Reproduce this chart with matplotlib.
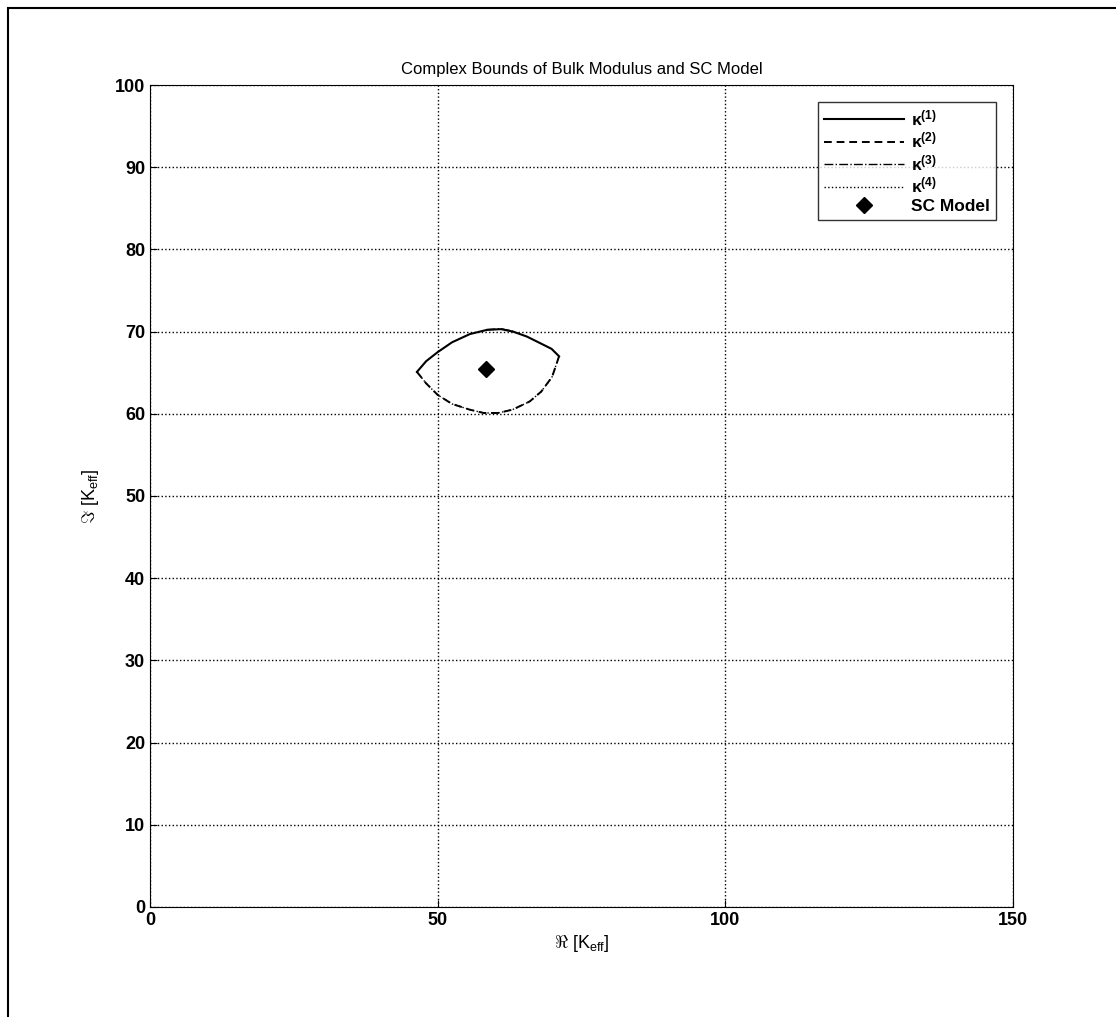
import matplotlib
matplotlib.use('Agg')
import matplotlib.pyplot as plt
from matplotlib.patches import Rectangle

# bound curves
upper_x = [46.4, 48.0, 50.0, 52.5, 55.6, 58.5, 61.0, 63.1, 65.5, 67.8, 69.8, 71.1]
upper_y = [65.1, 66.4, 67.5, 68.7, 69.7, 70.2, 70.3, 70.0, 69.4, 68.6, 67.9, 67.0]
lower_x = [46.4, 48.0, 50.0, 52.5, 55.6, 58.0, 60.5, 63.0, 66.0, 68.0, 69.9, 71.1]
lower_y = [65.1, 63.7, 62.3, 61.2, 60.5, 60.1, 60.1, 60.5, 61.5, 62.7, 64.5, 67.0]
sc_x = [58.4]
sc_y = [65.4]

xticks = [0, 50, 100, 150]
yticks = [0, 10, 20, 30, 40, 50, 60, 70, 80, 90, 100]

plt.rcParams['font.family'] = ['Liberation Sans', 'DejaVu Sans']
plt.rcParams['mathtext.fontset'] = 'custom'
plt.rcParams['mathtext.rm'] = 'Liberation Sans'
plt.rcParams['mathtext.it'] = 'Liberation Sans:italic'
plt.rcParams['mathtext.bf'] = 'Liberation Sans:bold'

fig = plt.figure(figsize=(11.16, 10.17), dpi=100)
ax = fig.add_axes([0.1344, 0.1082, 0.7733, 0.8082])

ax.plot(upper_x, upper_y, color='black', lw=1.5, ls='-', label='κ$^{\\mathbf{(1)}}$')
ax.plot(lower_x, lower_y, color='black', lw=1.4, ls=(0, (4, 2.5)), label='κ$^{\\mathbf{(2)}}$')
ax.plot(upper_x[5:8], [v + 0.05 for v in upper_y[5:8]], color='black', lw=1.0, ls='-.',
        label='κ$^{\\mathbf{(3)}}$')
ax.plot(lower_x, lower_y, color='black', lw=1.0, ls=':', label='κ$^{\\mathbf{(4)}}$')
ax.plot(sc_x, sc_y, ls='none', marker='D', color='black', ms=8, label='SC Model')

ax.set_xlim(0, 150)
ax.set_ylim(0, 100)
ax.set_xticks(xticks)
ax.set_yticks(yticks)
ax.grid(True, color='black', ls=':', lw=1.0)
ax.tick_params(direction='in', labelsize=13, length=5)
for lab in ax.get_xticklabels() + ax.get_yticklabels():
    lab.set_fontweight('bold')

ax.set_title('Complex Bounds of Bulk Modulus and SC Model', fontsize=12, pad=8)
ax.set_xlabel(r'$\Re$ [K$_{\mathrm{eff}}$]', fontsize=13, labelpad=3)
ax.set_ylabel(r'$\Im$ [K$_{\mathrm{eff}}$]', fontsize=13, labelpad=10)

leg = ax.legend(loc='upper right', prop={'size': 12.5, 'weight': 'bold'}, frameon=True,
                fancybox=False, edgecolor='black', handlelength=4.6, handletextpad=0.4,
                borderaxespad=1.0, labelspacing=0.15, borderpad=0.35)
leg.get_frame().set_linewidth(1.0)

fig.patches.append(Rectangle((0.007, -0.05), 1.1, 1.042, transform=fig.transFigure,
                             fill=False, edgecolor='black', lw=1.5))

fig.savefig('out.png', dpi=100)
